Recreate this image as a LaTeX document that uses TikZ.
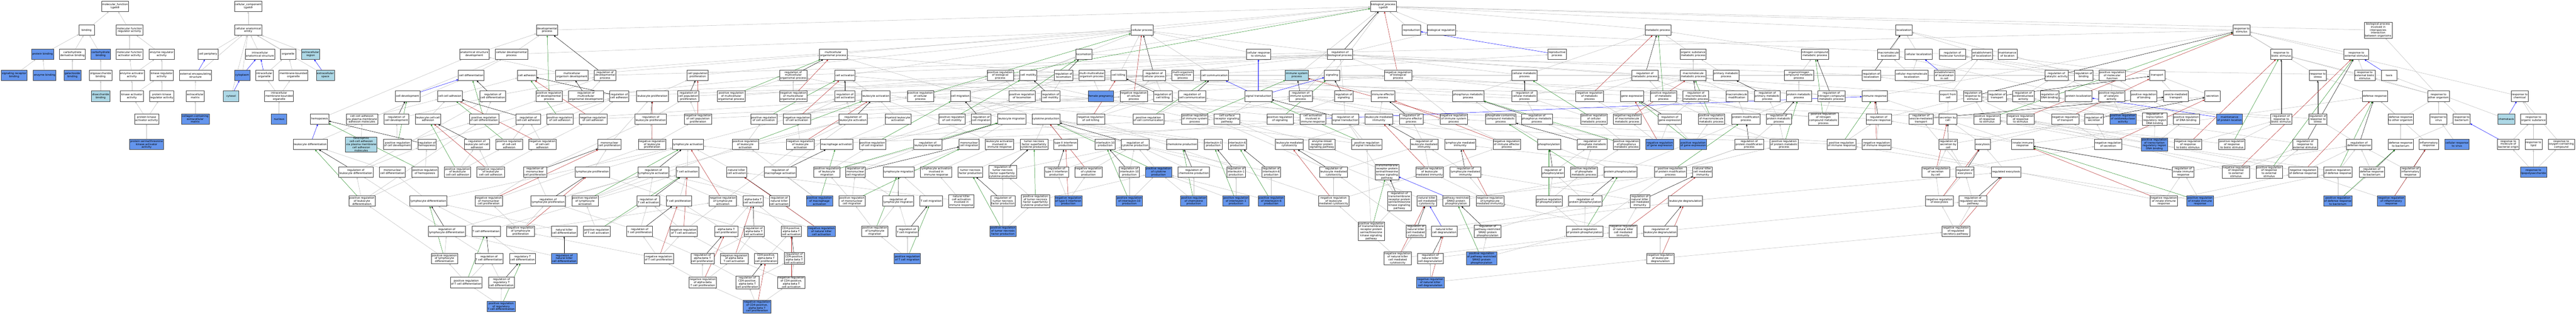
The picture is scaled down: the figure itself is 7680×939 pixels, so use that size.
\documentclass[tikz,border=0pt]{standalone}
\usepackage{fontspec}
\setmainfont{DejaVu Sans}
\usetikzlibrary{arrows.meta}
\definecolor{cfblue}{HTML}{6495ED}
\definecolor{ltblue}{HTML}{ADD8E6}
\definecolor{egray}{HTML}{BDBDBD}
\definecolor{egreen}{HTML}{228B22}
\definecolor{ered}{HTML}{B22222}
\pgfdeclarelayer{bglayer}
\pgfdeclarelayer{edgelayer}
\pgfsetlayers{bglayer,edgelayer,main}
\tikzset{
 gw/.style={draw=black!75, line width=0.8pt, fill=white, font=\fontsize{8}{9}\selectfont, align=center, inner xsep=2pt, inner ysep=1.5pt, minimum width=46pt, minimum height=31pt},
 gb/.style={gw, fill=cfblue},
 gl/.style={gw, fill=ltblue},
 tip/.style={-{Triangle[length=5pt,width=4.5pt]}},
 eg/.style={tip, draw=egray, line width=0.8pt},
 ek/.style={tip, draw=black, line width=0.75pt},
 egr/.style={tip, draw=egreen, line width=0.75pt},
 erd/.style={tip, draw=ered, line width=0.75pt},
 ebl/.style={tip, draw=blue, line width=0.75pt}
}
\newcommand\ndw[4]{\node[gw] (#1) at (#2,#3) {#4};}
\newcommand\ndb[4]{\node[gb] (#1) at (#2,#3) {#4};}
\newcommand\ndl[4]{\node[gl] (#1) at (#2,#3) {#4};}
\begin{document}
\begin{tikzpicture}[x=1pt,y=-1pt]
\begin{pgfonlayer}{bglayer}
\path[fill=white] (0,0) rectangle (7680,939);
\end{pgfonlayer}
\useasboundingbox (0,0) rectangle (7680,939);
% ---------- molecular function ----------
\ndw{mf}{343}{19}{molecular\_function\\Lgals9}
\ndw{binding}{258}{90}{binding}
\ndw{mfreg}{386}{90}{molecular function\\regulator activity}
\ndb{protbind}{127}{162}{protein binding}
\ndw{carbderiv}{216}{162}{carbohydrate\\derivative binding}
\ndb{carbbind}{300}{162}{carbohydrate\\binding}
\ndw{mfact}{386}{162}{molecular function\\activator activity}
\ndw{enzreg}{482}{162}{enzyme regulator\\activity}
\ndb{sigrec}{42}{225}{signaling receptor\\binding}
\ndb{enzbind}{133}{225}{enzyme binding}
\ndb{galbind}{216}{225}{galactoside\\binding}
\ndw{oligo}{300}{225}{oligosaccharide\\binding}
\ndw{enzact}{393}{225}{enzyme activator\\activity}
\ndw{kinreg}{482}{225}{kinase regulator\\activity}
\ndl{disacc}{300}{287}{disaccharide\\binding}
\ndw{kinact}{393}{287}{kinase activator\\activity}
\ndw{pkreg}{482}{287}{protein kinase\\regulator activity}
\ndw{pkact}{437}{355}{protein kinase\\activator activity}
\ndb{pstkact}{437}{431}{protein serine/threonine\\kinase activator\\activity}
% ---------- cellular component ----------
\ndw{cc}{740}{19}{cellular\_component\\Lgals9}
\ndw{cae}{740}{90}{cellular anatomical\\entity}
\ndw{cellperiph}{620}{162}{cell periphery}
\ndw{ias}{775}{162}{intracellular\\anatomical structure}
\ndw{organelle}{859}{162}{organelle}
\ndl{ecr}{926}{162}{extracellular\\region}
\ndw{ees}{583}{225}{external encapsulating\\structure}
\ndb{cytoplasm}{722}{225}{cytoplasm}
\ndw{intorg}{788}{225}{intracellular\\organelle}
\ndw{mbo}{875}{225}{membrane-bounded\\organelle}
\ndl{ecs}{970}{225}{extracellular\\space}
\ndw{ecm}{582}{287}{extracellular\\matrix}
\ndl{cytosol}{689}{287}{cytosol}
\ndw{imbo}{832}{287}{intracellular\\membrane-bounded\\organelle}
\ndb{collagen}{582}{355}{collagen-containing\\extracellular\\matrix}
\ndb{nucleus}{832}{355}{nucleus}
% ---------- biological process ----------
\ndw{bp}{4124}{19}{biological\_process\\Lgals9}
% row 90
\ndw{devproc}{1631}{90}{developmental\\process}
\ndw{cellproc}{3405}{90}{cellular process}
\ndw{repro}{4208}{90}{reproduction}
\ndw{bioreg}{4297}{90}{biological regulation}
\ndw{metproc}{4943}{90}{metabolic process}
\ndw{loc}{5676}{90}{localization}
\ndw{respstim}{6683}{90}{response to\\stimulus}
\ndw{bpinter}{7090}{90}{biological process\\involved in\\interspecies\\interaction\\between organisms}
% row 162
\ndw{asd}{1414}{162}{anatomical structure\\development}
\ndw{cdp}{1525}{162}{cellular developmental\\process}
\ndw{mop}{2484}{162}{multicellular\\organismal process}
\ndw{loco}{3231}{162}{locomotion}
\ndw{crs}{3752}{162}{cellular response\\to stimulus}
\ndw{regbp}{3995}{162}{regulation of\\biological process}
\ndw{reproproc}{4642}{162}{reproductive\\process}
\ndw{osmp}{5048}{162}{organic substance\\metabolic process}
\ndw{ncmp}{5411}{162}{nitrogen compound\\metabolic process}
\ndw{macloc}{5630}{162}{macromolecule\\localization}
\ndw{cellloc}{5720}{162}{cellular localization}
\ndw{regmf}{5821}{162}{regulation of\\molecular function}
\ndw{estloc}{5909}{162}{establishment\\of localization}
\ndw{mainloc}{5985}{162}{maintenance\\of location}
\ndw{respbiotic}{6801}{162}{response to\\biotic stimulus}
\ndw{respext}{7025}{162}{response to\\external stimulus}
% row 225
\ndw{celldiff}{1405}{225}{cell differentiation}
\ndw{celladh}{1571}{225}{cell adhesion}
\ndw{mcod}{1705}{225}{multicellular\\organism development}
\ndw{regdev}{1804}{225}{regulation of\\developmental\\process}
\ndw{cellpopprolif}{2080}{225}{cell population\\proliferation}
\ndw{regmop}{2365}{225}{regulation of\\multicellular\\organismal process}
\ndw{cellact}{2519}{225}{cell activation}
\ndw{posregbp}{2982}{225}{positive regulation\\of biological\\process}
\ndw{cellmot}{3066}{225}{cell motility}
\ndw{regloco}{3171}{225}{regulation of\\locomotion}
\ndw{mmop}{3255}{225}{multi-multicellular\\organism process}
\ndw{cellkill}{3335}{225}{cell killing}
\ndw{regcp}{3441}{225}{regulation of\\cellular process}
\ndw{morp}{3526}{225}{multi-organism\\reproductive\\process}
\ndw{cellcomm}{3621}{225}{cell communication}
\ndl{isp}{3866}{225}{immune system\\process}
\ndw{signaling}{3971}{225}{signaling}
\ndw{negregbp}{4168}{225}{negative regulation\\of biological\\process}
\ndw{cellmet}{4545}{225}{cellular metabolic\\process}
\ndw{regmet}{4904}{225}{regulation of\\metabolic process}
\ndw{macmet}{5048}{225}{macromolecule\\metabolic process}
\ndw{primmet}{5146}{225}{primary metabolic\\process}
\ndw{orgnmp}{5363}{225}{organonitrogen\\compound metabolic\\process}
\ndw{regloc}{5579}{225}{regulation of\\localization}
\ndw{cellmacloc}{5699}{225}{cellular macromolecule\\localization}
\ndw{estlocincell}{5797}{225}{establishment\\of localization\\in cell}
\ndw{regcatact}{6131}{225}{regulation of\\catalytic activity}
\ndw{regbinding}{6212}{225}{regulation of\\binding}
\ndw{posregmf}{6297}{225}{positive regulation\\of molecular\\function}
\ndw{transport}{6431}{225}{transport}
\ndw{respstress}{6910}{225}{response to\\stress}
\ndw{respextbiotic}{7050}{225}{response to\\external biotic\\stimulus}
\ndw{taxis}{7123}{225}{taxis}
% row 287
\ndw{celldev}{1215}{287}{cell development}
\ndw{ccadh2}{1341}{287}{cell-cell adhesion}
\ndw{regcelldiff}{1469}{287}{regulation of\\cell differentiation}
\ndw{posregdev}{1637}{287}{positive regulation\\of developmental\\process}
\ndw{regmcod}{1747}{287}{regulation of\\multicellular\\organismal development}
\ndw{regcelladh}{1846}{287}{regulation of\\cell adhesion}
\ndw{leukprolif}{1945}{287}{leukocyte proliferation}
\ndw{regcellpopprolif}{2052}{287}{regulation of\\cell population\\proliferation}
\ndw{posregmop}{2180}{287}{positive regulation\\of multicellular\\organismal process}
\ndw{negregmop}{2365}{287}{negative regulation\\of multicellular\\organismal process}
\ndw{regcellact}{2519}{287}{regulation of\\cell activation}
\ndw{leukact}{2611}{287}{leukocyte activation}
\ndw{posregcp}{2744}{287}{positive regulation\\of cellular\\process}
\ndw{cellmig}{2863}{287}{cell migration}
\ndw{posregloco}{3047}{287}{positive regulation\\of locomotion}
\ndw{regcellmot}{3132}{287}{regulation of\\cell motility}
\ndb{femalepreg}{3282}{287}{female pregnancy}
\ndw{negregcp}{3380}{287}{negative regulation\\of cellular\\process}
\ndw{regcellkill}{3467}{287}{regulation of\\cell killing}
\ndw{regcellcomm}{3554}{287}{regulation of\\cell communication}
\ndw{sigtrans}{3752}{287}{signal transduction}
\ndw{regisp}{3878}{287}{regulation of\\immune system\\process}
\ndw{regsig}{4006}{287}{regulation of\\signaling}
\ndw{iep}{4123}{287}{immune effector\\process}
\ndw{phosmet}{4377}{287}{phosphorus metabolic\\process}
\ndw{regcellmet}{4545}{287}{regulation of\\cellular metabolic\\process}
\ndw{negregmet}{4739}{287}{negative regulation\\of metabolic\\process}
\ndw{geneexpr}{4866}{287}{gene expression}
\ndw{posregmet}{4959}{287}{positive regulation\\of metabolic\\process}
\ndw{regmacmet}{5056}{287}{regulation of\\macromolecule\\metabolic process}
\ndw{macmod}{5178}{287}{macromolecule\\modification}
\ndw{regprimmet}{5269}{287}{regulation of\\primary metabolic\\process}
\ndw{protmet}{5363}{287}{protein metabolic\\process}
\ndw{regncmp}{5460}{287}{regulation of\\nitrogen compound\\metabolic process}
\ndw{immresp}{5589}{287}{immune response}
\ndw{export}{5808}{287}{export from\\cell}
\ndw{regrespstim}{5881}{287}{regulation of\\response to\\stimulus}
\ndw{regtransport}{5954}{287}{regulation of\\transport}
\ndw{regoxact}{6032}{287}{regulation of\\oxidoreductase\\activity}
\ndw{regdnabind}{6110}{287}{regulation of\\DNA binding}
\ndw{protloc}{6197}{287}{protein localization}
\ndw{posregcatact}{6295}{287}{positive regulation\\of catalytic\\activity}
\ndw{posregbinding}{6391}{287}{positive regulation\\of binding}
\ndw{vesictrans}{6487}{287}{vesicle-mediated\\transport}
\ndw{secretion}{6596}{287}{secretion}
\ndw{defresp}{7080}{287}{defense response}
\ndw{resporg}{7270}{287}{response to\\other organism}
\ndw{respchem}{7512}{287}{response to\\chemical}
% row 355
\ndw{hemo}{953}{355}{hemopoiesis}
\ndw{ccadh}{1079}{355}{cell-cell adhesion\\via plasma-membrane\\adhesion molecules}
\ndw{regcelldev}{1182}{355}{regulation of\\cell development}
\ndw{leukadh}{1276}{355}{leukocyte cell-cell\\adhesion}
\ndw{posregcelldiff}{1443}{355}{positive regulation\\of cell differentiation}
\ndw{regccadh}{1575}{355}{regulation of\\cell-cell adhesion}
\ndw{posregcelladh}{1669}{355}{positive regulation\\of cell adhesion}
\ndw{negregcelladh}{1768}{355}{negative regulation\\of cell adhesion}
\ndw{regleukprolif}{1940}{355}{regulation of\\leukocyte proliferation}
\ndw{negregcellpopprolif}{2081}{355}{negative regulation\\of cell population\\proliferation}
\ndw{posregcellact}{2277}{355}{positive regulation\\of cell activation}
\ndw{negregcellact}{2376}{355}{negative regulation\\of cell activation}
\ndw{regleukact}{2543}{355}{regulation of\\leukocyte activation}
\ndw{myeloidleukact}{2677}{355}{myeloid leukocyte\\activation}
\ndw{posregcellmot}{2838}{355}{positive regulation\\of cell motility}
\ndw{regcellmig}{2925}{355}{regulation of\\cell migration}
\ndw{leukmig}{3016}{355}{leukocyte migration}
\ndw{cytprod}{3118}{355}{cytokine production}
\ndw{negregcellkill}{3252}{355}{negative regulation\\of cell killing}
\ndw{posregcellcomm}{3424}{355}{positive regulation\\of cell communication}
\ndw{posregisp}{3562}{355}{positive regulation\\of immune system\\process}
\ndw{csrsp}{3658}{355}{cell surface\\receptor signaling\\pathway}
\ndw{posregsig}{3816}{355}{positive regulation\\of signaling}
\ndw{cellactimm}{3914}{355}{cell activation\\involved in\\immune response}
\ndw{regsigtrans}{4011}{355}{regulation of\\signal transduction}
\ndw{leukmedimm}{4111}{355}{leukocyte mediated\\immunity}
\ndw{regiep}{4207}{355}{regulation of\\immune effector\\process}
\ndw{negregisp}{4334}{355}{negative regulation\\of immune system\\process}
\ndw{phoscomp}{4474}{355}{phosphate-containing\\compound metabolic\\process}
\ndw{regphosmet}{4582}{355}{regulation of\\phosphorus metabolic\\process}
\ndw{posregcellmet}{4752}{355}{positive regulation\\of cellular\\metabolic process}
\ndw{negregmacmet}{4851}{355}{negative regulation\\of macromolecule\\metabolic process}
\ndw{reggeneexpr}{4978}{355}{regulation of\\gene expression}
\ndw{posregmacmet}{5102}{355}{positive regulation\\of macromolecule\\metabolic process}
\ndw{protmod}{5205}{355}{protein modification\\process}
\ndw{regprotmet}{5303}{355}{regulation of\\protein metabolic\\process}
\ndw{posregncmp}{5436}{355}{positive regulation\\of nitrogen\\compound metabolic\\process}
\ndw{regimmresp}{5601}{355}{regulation of\\immune response}
\ndw{regvesic}{5727}{355}{regulation of\\vesicle-mediated\\transport}
\ndw{secbycell}{5807}{355}{secretion by\\cell}
\ndw{posregrespstim}{5924}{355}{positive regulation\\of response\\to stimulus}
\ndw{negregrespstim}{6024}{355}{negative regulation\\of response\\to stimulus}
\ndw{negregtransport}{6157}{355}{negative regulation\\of transport}
\ndw{regsecretion}{6243}{355}{regulation of\\secretion}
\ndb{posregoxact}{6329}{355}{positive regulation\\of oxidoreductase\\activity}
\ndw{regtranscr}{6424}{355}{regulation of\\transcription\\regulatory region\\DNA binding}
\ndw{posregdnabind}{6518}{355}{positive regulation\\of DNA binding}
\ndb{mainprotloc}{6647}{355}{maintenance\\of protein location}
\ndw{regrespbiotic}{6801}{355}{regulation of\\response to\\biotic stimulus}
\ndw{regrespstress}{6910}{355}{regulation of\\response to\\stress}
\ndw{defrespother}{7157}{355}{defense response\\to other organism}
\ndw{respvirus}{7270}{355}{response to\\virus}
\ndw{respbact}{7339}{355}{response to\\bacterium}
\ndl{chemotaxis}{7472}{355}{chemotaxis}
\ndw{resporgsub}{7553}{355}{response to\\organic substance}
% row 431
\ndw{leukdiff}{925}{431}{leukocyte differentiation}
\ndl{hetero}{1077}{431}{heterophilic\\cell-cell adhesion\\via plasma membrane\\cell adhesion\\molecules}
\ndw{posregcelldev}{1185}{431}{positive regulation\\of cell development}
\ndw{reghemo}{1273}{431}{regulation of\\hemopoiesis}
\ndw{regleukccadh}{1422}{431}{regulation of\\leukocyte cell-cell\\adhesion}
\ndw{posregccadh}{1518}{431}{positive regulation\\of cell-cell\\adhesion}
\ndw{negregccadh}{1617}{431}{negative regulation\\of cell-cell\\adhesion}
\ndw{mncprolif}{1817}{431}{mononuclear\\cell proliferation}
\ndw{negregleukprolif}{1944}{431}{negative regulation\\of leukocyte\\proliferation}
\ndw{lymphact}{2051}{431}{lymphocyte activation}
\ndw{posregleukact}{2222}{431}{positive regulation\\of leukocyte\\activation}
\ndw{negregleukact}{2386}{431}{negative regulation\\of leukocyte\\activation}
\ndw{macact}{2494}{431}{macrophage activation}
\ndw{posregcellmig}{2601}{431}{positive regulation\\of cell migration}
\ndw{regleukmig}{2766}{431}{regulation of\\leukocyte migration}
\ndw{mncmig}{2889}{431}{mononuclear\\cell migration}
\ndw{leukactimm}{2980}{431}{leukocyte activation\\involved in\\immune response}
\ndw{tnfsfprod}{3083}{431}{tumor necrosis\\factor superfamily\\cytokine production}
\ndw{type2ifnprod}{3177}{431}{type II interferon\\production}
\ndw{il10prod}{3295}{431}{interleukin-10\\production}
\ndw{regcytprod}{3384}{431}{regulation of\\cytokine production}
\ndw{chemokprod}{3524}{431}{chemokine production}
\ndw{il1prod}{3617}{431}{interleukin-1\\production}
\ndw{il6prod}{3689}{431}{interleukin-6\\production}
\ndw{leukcytotox}{3844}{431}{leukocyte mediated\\cytotoxicity}
\ndw{enzrecprot}{3941}{431}{enzyme-linked\\receptor protein\\signaling pathway}
\ndw{posregsigtrans}{4075}{431}{positive regulation\\of signal transduction}
\ndw{regleukmedimm}{4246}{431}{regulation of\\leukocyte mediated\\immunity}
\ndw{lymphmedimm}{4353}{431}{lymphocyte mediated\\immunity}
\ndw{negregiep}{4492}{431}{negative regulation\\of immune effector\\process}
\ndw{phosphorylation}{4618}{431}{phosphorylation}
\ndw{regphosphmet}{4747}{431}{regulation of\\phosphate metabolic\\process}
\ndw{posregphosmet}{4849}{431}{positive regulation\\of phosphorus\\metabolic process}
\ndb{negreggeneexpr}{4948}{431}{negative regulation\\of gene expression}
\ndb{posreggeneexpr}{5048}{431}{positive regulation\\of gene expression}
\ndw{regpmp}{5215}{431}{regulation of\\protein modification\\process}
\ndw{posregprotmet}{5319}{431}{positive regulation\\of protein metabolic\\process}
\ndw{posregimmresp}{5490}{431}{positive regulation\\of immune response}
\ndw{negregimmresp}{5595}{431}{negative regulation\\of immune response}
\ndw{regsecbycell}{5808}{431}{regulation of\\secretion by\\cell}
\ndw{exocytosis}{5911}{431}{exocytosis}
\ndw{innateimm}{6030}{431}{innate immune\\response}
\ndw{negregsecretion}{6285}{431}{negative regulation\\of secretion}
\ndb{posregtranscr}{6423}{431}{positive regulation\\of transcription\\regulatory region\\DNA binding}
\ndw{negregrespbiotic}{6523}{431}{negative regulation\\of response\\to biotic stimulus}
\ndw{posregrespbiotic}{6654}{431}{positive regulation\\of response\\to biotic stimulus}
\ndw{regrespext}{6872}{431}{regulation of\\response to\\external stimulus}
\ndw{regdefresp}{7033}{431}{regulation of\\defense response}
\ndw{defrespbact}{7157}{431}{defense response\\to bacterium}
\ndw{inflam}{7241}{431}{inflammatory\\response}
\ndb{cellrespvirus}{7325}{431}{cellular response\\to virus}
\ndw{respmolbact}{7478}{431}{response to\\molecule of\\bacterial origin}
\ndw{resplipid}{7553}{431}{response to\\lipid}
\ndw{respoxy}{7636}{431}{response to\\oxygen-containing\\compound}
% row 513
\ndw{regleukdiff}{1061}{513}{regulation of\\leukocyte differentiation}
\ndw{mncdiff}{1170}{513}{mononuclear\\cell differentiation}
\ndw{posreghemo}{1267}{513}{positive regulation\\of hemopoiesis}
\ndw{posregleukccadh}{1364}{513}{positive regulation\\of leukocyte\\cell-cell adhesion}
\ndw{negregleukccadh}{1463}{513}{negative regulation\\of leukocyte\\cell-cell adhesion}
\ndw{regmncprolif}{1595}{513}{regulation of\\mononuclear\\cell proliferation}
\ndw{lymphprolif}{1766}{513}{lymphocyte proliferation}
\ndw{reglymphact}{1948}{513}{regulation of\\lymphocyte activation}
\ndw{tcellact}{2049}{513}{T cell activation}
\ndw{nkact}{2196}{513}{natural killer\\cell activation}
\ndw{regmacact}{2326}{513}{regulation of\\macrophage activation}
\ndw{posregleukmig}{2465}{513}{positive regulation\\of leukocyte\\migration}
\ndw{regmncmig}{2550}{513}{regulation of\\mononuclear\\cell migration}
\ndw{lymphmig}{2679}{513}{lymphocyte migration}
\ndw{lymphactimm}{2791}{513}{lymphocyte activation\\involved in\\immune response}
\ndw{tnfprod}{2893}{513}{tumor necrosis\\factor production}
\ndw{regtnfsfprod}{2989}{513}{regulation of\\tumor necrosis\\factor superfamily\\cytokine production}
\ndw{regtype2ifnprod}{3150}{513}{regulation of\\type II interferon\\production}
\ndw{negregcytprod}{3245}{513}{negative regulation\\of cytokine\\production}
\ndw{regil10prod}{3367}{513}{regulation of\\interleukin-10\\production}
\ndb{posregcytprod}{3454}{513}{positive regulation\\of cytokine\\production}
\ndw{regchemokprod}{3559}{513}{regulation of\\chemokine production}
\ndw{regil1prod}{3685}{513}{regulation of\\interleukin-1\\production}
\ndw{regil6prod}{3790}{513}{regulation of\\interleukin-6\\production}
\ndw{regleukcytotox}{3976}{513}{regulation of\\leukocyte mediated\\cytotoxicity}
\ndw{tmrpsts}{4135}{513}{transmembrane\\receptor protein\\serine/threonine\\kinase signaling\\pathway}
\ndw{negregleukmedimm}{4262}{513}{negative regulation\\of leukocyte\\mediated immunity}
\ndw{reglymphmedimm}{4369}{513}{regulation of\\lymphocyte mediated\\immunity}
\ndw{regphosph}{4630}{513}{regulation of\\phosphorylation}
\ndw{posregphosphmet}{4722}{513}{positive regulation\\of phosphate\\metabolic process}
\ndw{protphos}{4831}{513}{protein phosphorylation}
\ndw{posregpmp}{4980}{513}{positive regulation\\of protein modification\\process}
\ndw{nkmedimm}{5076}{513}{natural killer\\cell mediated\\immunity}
\ndw{negregsecbycell}{5771}{513}{negative regulation\\of secretion\\by cell}
\ndw{regexo}{5858}{513}{regulation of\\exocytosis}
\ndw{regexo2}{5981}{513}{regulated exocytosis}
\ndw{reginnate}{6509}{513}{regulation of\\innate immune\\response}
\ndw{negregrespext}{6666}{513}{negative regulation\\of response\\to external\\stimulus}
\ndw{posregrespext}{6765}{513}{positive regulation\\of response\\to external\\stimulus}
\ndw{negregdefresp}{6866}{513}{negative regulation\\of defense response}
\ndw{posregdefresp}{6970}{513}{positive regulation\\of defense response}
\ndw{regdefbact}{7071}{513}{regulation of\\defense response\\to bacterium}
\ndw{reginflam}{7186}{513}{regulation of\\inflammatory\\response}
\ndb{resplps}{7553}{513}{response to\\lipopolysaccharide}
% row 600
\ndw{posregleukdiff}{1079}{600}{positive regulation\\of leukocyte\\differentiation}
\ndw{lymphdiff}{1277}{600}{lymphocyte differentiation}
\ndw{negregmncprolif}{1457}{600}{negative regulation\\of mononuclear\\cell proliferation}
\ndw{reglymphprolif}{1634}{600}{regulation of\\lymphocyte proliferation}
\ndw{posreglymphact}{1744}{600}{positive regulation\\of lymphocyte\\activation}
\ndw{regtcellact}{1933}{600}{regulation of\\T cell activation}
\ndw{tcellprolif}{2024}{600}{T cell proliferation}
\ndw{negreglymphact}{2155}{600}{negative regulation\\of lymphocyte\\activation}
\ndw{abtcellact}{2245}{600}{alpha-beta T\\cell activation}
\ndw{regnkact}{2323}{600}{regulation of\\natural killer\\cell activation}
\ndb{posregmacact}{2443}{600}{positive regulation\\of macrophage\\activation}
\ndw{posregmncmig}{2540}{600}{positive regulation\\of mononuclear\\cell migration}
\ndw{reglymphmig}{2678}{600}{regulation of\\lymphocyte migration}
\ndw{tcellmig}{2776}{600}{T cell migration}
\ndw{nkactimm}{2866}{600}{natural killer\\cell activation\\involved in\\immune response}
\ndw{regtnfprod}{2990}{600}{regulation of\\tumor necrosis\\factor production}
\ndw{posregtnfsfprod}{3087}{600}{positive regulation\\of tumor necrosis\\factor superfamily\\cytokine production}
\ndb{negregtype2ifnprod}{3185}{600}{negative regulation\\of type II interferon\\production}
\ndb{posregil10prod}{3367}{600}{positive regulation\\of interleukin-10\\production}
\ndb{posregchemokprod}{3559}{600}{positive regulation\\of chemokine\\production}
\ndb{posregil1prod}{3685}{600}{positive regulation\\of interleukin-1\\production}
\ndb{posregil6prod}{3790}{600}{positive regulation\\of interleukin-6\\production}
\ndw{negregleukcytotox}{3976}{600}{negative regulation\\of leukocyte\\mediated cytotoxicity}
\ndw{regtmrpsts}{4172}{600}{regulation of\\transmembrane\\receptor protein\\serine/threonine\\kinase signaling\\pathway}
\ndw{nkcytotox}{4254}{600}{natural killer\\cell mediated\\cytotoxicity}
\ndw{smadphos}{4341}{600}{pathway-restricted\\SMAD protein\\phosphorylation}
\ndw{negreglymphmedimm}{4442}{600}{negative regulation\\of lymphocyte\\mediated immunity}
\ndw{posregphosph}{4618}{600}{positive regulation\\of phosphorylation}
\ndw{regprotphos}{4726}{600}{regulation of\\protein phosphorylation}
\ndw{regnkmedimm}{4889}{600}{regulation of\\natural killer\\cell mediated\\immunity}
\ndw{leukdegran}{5025}{600}{leukocyte degranulation}
\ndw{negregexo}{5782}{600}{negative regulation\\of exocytosis}
\ndw{regregsec}{5882}{600}{regulation of\\regulated secretory\\pathway}
\ndw{negreginnate}{6451}{600}{negative regulation\\of innate immune\\response}
\ndb{posreginnate}{6559}{600}{positive regulation\\of innate immune\\response}
\ndb{posregdefbact}{6970}{600}{positive regulation\\of defense response\\to bacterium}
\ndb{negreginflam}{7129}{600}{negative regulation\\of inflammatory\\response}
% row 690
\ndw{reglymphdiff}{1332}{690}{regulation of\\lymphocyte differentiation}
\ndw{tcelldiff}{1449}{690}{T cell differentiation}
\ndw{negreglymphprolif}{1552}{690}{negative regulation\\of lymphocyte\\proliferation}
\ndw{nkdiff}{1682}{690}{natural killer\\cell differentiation}
\ndw{posregtcellact}{1779}{690}{positive regulation\\of T cell activation}
\ndw{regtcellprolif}{1907}{690}{regulation of\\T cell proliferation}
\ndw{negregtcellact}{2038}{690}{negative regulation\\of T cell activation}
\ndw{abtcellprolif}{2165}{690}{alpha-beta T\\cell proliferation}
\ndw{regabtcellact}{2248}{690}{regulation of\\alpha-beta T\\cell activation}
\ndw{cd4act}{2359}{690}{CD4-positive,\\alpha-beta T\\cell activation}
\ndb{negregnkact}{2449}{690}{negative regulation\\of natural killer\\cell activation}
\ndw{posreglymphmig}{2608}{690}{positive regulation\\of lymphocyte\\migration}
\ndw{regtcellmig}{2705}{690}{regulation of\\T cell migration}
\ndb{posregtnfprod}{2990}{690}{positive regulation\\of tumor necrosis\\factor production}
\ndw{posregtmrpsts}{4088}{690}{positive regulation\\of transmembrane\\receptor protein\\serine/threonine\\kinase signaling\\pathway}
\ndw{regnkcytotox}{4221}{690}{regulation of\\natural killer\\cell mediated\\cytotoxicity}
\ndw{nkdegran}{4306}{690}{natural killer\\cell degranulation}
\ndw{regsmadphos}{4435}{690}{regulation of\\pathway-restricted\\SMAD protein\\phosphorylation}
\ndw{posregprotphos}{4724}{690}{positive regulation\\of protein phosphorylation}
\ndw{negregnkmedimm}{4839}{690}{negative regulation\\of natural killer\\cell mediated\\immunity}
\ndw{regleukdegran}{4950}{690}{regulation of\\leukocyte degranulation}
\ndw{negregregsec}{5831}{690}{negative regulation\\of regulated\\secretory pathway}
% row 771
\ndw{posreglymphdiff}{1325}{771}{positive regulation\\of lymphocyte\\differentiation}
\ndw{regtcelldiff}{1458}{771}{regulation of\\T cell differentiation}
\ndw{regTdiff}{1558}{771}{regulatory T\\cell differentiation}
\ndb{regnkdiff}{1682}{771}{regulation of\\natural killer\\cell differentiation}
\ndw{negregtcellprolif}{1964}{771}{negative regulation\\of T cell proliferation}
\ndw{regabtcellprolif}{2094}{771}{regulation of\\alpha-beta T\\cell proliferation}
\ndw{negregabtcellact}{2189}{771}{negative regulation\\of alpha-beta\\T cell activation}
\ndw{cd4prolif}{2284}{771}{CD4-positive,\\alpha-beta T\\cell proliferation}
\ndw{regcd4act}{2368}{771}{regulation of\\CD4-positive,\\alpha-beta T\\cell activation}
\ndb{posregtcellmig}{2705}{771}{positive regulation\\of T cell migration}
\ndw{negregnkcytotox}{4167}{771}{negative regulation\\of natural killer\\cell mediated\\cytotoxicity}
\ndw{regnkdegran}{4264}{771}{regulation of\\natural killer\\cell degranulation}
\ndb{posregsmadphos}{4417}{771}{positive regulation\\of pathway-restricted\\SMAD protein\\phosphorylation}
\ndw{negregleukdegran}{4950}{771}{negative regulation\\of leukocyte\\degranulation}
% row 843
\ndw{posregtcelldiff}{1390}{843}{positive regulation\\of T cell differentiation}
\ndw{regregTdiff}{1495}{843}{regulation of\\regulatory T\\cell differentiation}
\ndw{negregabtcellprolif}{2095}{843}{negative regulation\\of alpha-beta\\T cell proliferation}
\ndw{regcd4prolif}{2228}{843}{regulation of\\CD4-positive,\\alpha-beta T\\cell proliferation}
\ndw{negregcd4act}{2359}{843}{negative regulation\\of CD4-positive,\\alpha-beta T\\cell activation}
\ndb{negregnkdegran}{4264}{843}{negative regulation\\of natural killer\\cell degranulation}
% row 914
\ndb{posregregTdiff}{1494}{914}{positive regulation\\of regulatory\\T cell differentiation}
\ndb{negregcd4prolif}{2257}{915}{negative regulation\\of CD4-positive,\\alpha-beta T\\cell proliferation}
% ================= edges =================
\begin{pgfonlayer}{edgelayer}
\foreach \a/\b in {binding/mf, mfreg/mf, protbind/binding, carbderiv/binding, carbbind/binding, mfact/mfreg, enzreg/mfreg, sigrec/protbind, enzbind/protbind, galbind/carbderiv, oligo/carbbind, disacc/oligo, enzact/mfact, enzact/enzreg, kinreg/enzreg, kinact/enzact, kinact/kinreg, pkreg/kinreg, pkact/kinact, pkact/pkreg, pstkact/pkact,
cae/cc, cellperiph/cae, ias/cae, organelle/cae, ecr/cae, cytoplasm/cae, cytosol/cae, ecs/cae, ees/cae, ecm/ees, collagen/ecm, intorg/organelle, mbo/organelle, imbo/intorg, imbo/mbo, nucleus/imbo,
cellproc/bp, devproc/bp, metproc/bp, loc/bp, respstim/bp, bpinter/bp, repro/bp, bioreg/bp, mop/bp, isp/bp, loco/bp, signaling/bp,
regbp/bioreg, negregbp/regbp, posregbp/regbp, regcp/regbp, negregcp/regcp, negregcp/negregbp, posregcp/regcp, posregcp/posregbp,
asd/devproc, cdp/devproc, cdp/cellproc, mcod/asd, mcod/mop, celldiff/cdp, celldev/cdp, regdev/regbp, posregdev/regdev, posregdev/posregbp,
regcelldiff/regdev, posregcelldiff/regcelldiff, posregcelldiff/posregdev, regcelldev/regcelldiff, posregcelldev/regcelldev, posregcelldev/posregcelldiff,
regmcod/regdev, regmcod/regmop, hemo/asd, leukdiff/celldiff, reghemo/regmcod, posreghemo/reghemo, regleukdiff/reghemo, regleukdiff/regcelldiff, posregleukdiff/regleukdiff, posregleukdiff/posreghemo, posregleukdiff/posregcelldiff, mncdiff/leukdiff, lymphdiff/mncdiff, lymphdiff/lymphact, reglymphdiff/regleukdiff, reglymphdiff/reglymphact, posreglymphdiff/reglymphdiff, posreglymphdiff/posregleukdiff, tcelldiff/lymphdiff, tcelldiff/tcellact, regtcelldiff/reglymphdiff, posregtcelldiff/regtcelldiff, posregtcelldiff/posreglymphdiff, regTdiff/tcelldiff, regregTdiff/regtcelldiff, posregregTdiff/regregTdiff, posregregTdiff/posregtcelldiff, nkdiff/lymphdiff, regnkdiff/reglymphdiff,
celladh/cellproc, ccadh2/celladh, ccadh/ccadh2, hetero/ccadh, leukadh/ccadh2, regcelladh/regcp, posregcelladh/regcelladh, posregcelladh/posregcp, negregcelladh/regcelladh, negregcelladh/negregcp, regccadh/regcelladh, posregccadh/regccadh, posregccadh/posregcelladh, negregccadh/regccadh, negregccadh/negregcelladh, regleukccadh/regccadh, posregleukccadh/regleukccadh, posregleukccadh/posregccadh, negregleukccadh/regleukccadh, negregleukccadh/negregccadh,
cellpopprolif/cellproc, regcellpopprolif/regcp, negregcellpopprolif/regcellpopprolif, negregcellpopprolif/negregcp, leukprolif/cellpopprolif, regleukprolif/regcellpopprolif, negregleukprolif/regleukprolif, negregleukprolif/negregcellpopprolif, mncprolif/leukprolif, regmncprolif/regleukprolif, negregmncprolif/regmncprolif, negregmncprolif/negregleukprolif, lymphprolif/mncprolif, lymphprolif/lymphact, reglymphprolif/regmncprolif, reglymphprolif/reglymphact, negreglymphprolif/reglymphprolif, negreglymphprolif/negregmncprolif, negreglymphprolif/negreglymphact, tcellprolif/lymphprolif, tcellprolif/tcellact, regtcellprolif/reglymphprolif, regtcellprolif/regtcellact, negregtcellprolif/regtcellprolif, negregtcellprolif/negreglymphprolif, negregtcellprolif/negregtcellact, abtcellprolif/tcellprolif, abtcellprolif/abtcellact, regabtcellprolif/regtcellprolif, regabtcellprolif/regabtcellact, negregabtcellprolif/regabtcellprolif, negregabtcellprolif/negregtcellprolif, negregabtcellprolif/negregabtcellact, cd4prolif/abtcellprolif, cd4prolif/cd4act, regcd4prolif/regabtcellprolif, regcd4prolif/regcd4act, negregcd4prolif/regcd4prolif, negregcd4prolif/negregabtcellprolif, negregcd4prolif/negregcd4act,
cellact/cellproc, regcellact/regcp, posregcellact/regcellact, posregcellact/posregcp, negregcellact/regcellact, negregcellact/negregcp, leukact/cellact, regleukact/regcellact, regleukact/regisp, posregleukact/regleukact, posregleukact/posregcellact, posregleukact/posregisp, negregleukact/regleukact, negregleukact/negregcellact, negregleukact/negregisp, lymphact/leukact, reglymphact/regleukact, posreglymphact/reglymphact, posreglymphact/posregleukact, negreglymphact/reglymphact, negreglymphact/negregleukact, tcellact/lymphact, regtcellact/reglymphact, posregtcellact/regtcellact, posregtcellact/posreglymphact, negregtcellact/regtcellact, negregtcellact/negreglymphact, abtcellact/tcellact, regabtcellact/regtcellact, negregabtcellact/regabtcellact, negregabtcellact/negregtcellact, cd4act/abtcellact, regcd4act/regabtcellact, negregcd4act/regcd4act, negregcd4act/negregabtcellact, nkact/lymphact, regnkact/reglymphact, negregnkact/regnkact, negregnkact/negreglymphact, myeloidleukact/leukact, macact/myeloidleukact, regmacact/regleukact, posregmacact/regmacact, posregmacact/posregleukact, leukactimm/leukact, leukactimm/cellactimm, lymphactimm/lymphact, lymphactimm/leukactimm, nkactimm/nkact, nkactimm/lymphactimm, cellactimm/cellact,
regmop/regbp, posregmop/regmop, posregmop/posregbp, negregmop/regmop, negregmop/negregbp,
leukmig/cellmig, posregleukmig/regleukmig, posregleukmig/posregcellmig, regleukmig/regcellmig, mncmig/leukmig, regmncmig/regleukmig, posregmncmig/regmncmig, posregmncmig/posregleukmig, lymphmig/mncmig, reglymphmig/regmncmig, posreglymphmig/reglymphmig, posreglymphmig/posregmncmig, tcellmig/lymphmig, regtcellmig/reglymphmig, posregtcellmig/regtcellmig, posregtcellmig/posreglymphmig, cellmig/cellmot, regcellmig/regcellmot, posregcellmig/regcellmig, posregcellmig/posregcellmot, cellmot/loco, cellmot/cellproc, regcellmot/regloco, posregcellmot/regcellmot, posregcellmot/posregloco, regloco/regbp, posregloco/regloco, posregloco/posregbp,
cytprod/mop, regcytprod/regmop, negregcytprod/regcytprod, posregcytprod/regcytprod, tnfsfprod/cytprod, regtnfsfprod/regcytprod, posregtnfsfprod/regtnfsfprod, posregtnfsfprod/posregcytprod, tnfprod/tnfsfprod, regtnfprod/regtnfsfprod, posregtnfprod/regtnfprod, posregtnfprod/posregtnfsfprod, type2ifnprod/cytprod, regtype2ifnprod/regcytprod, negregtype2ifnprod/regtype2ifnprod, negregtype2ifnprod/negregcytprod, il10prod/cytprod, regil10prod/regcytprod, posregil10prod/regil10prod, posregil10prod/posregcytprod, chemokprod/cytprod, regchemokprod/regcytprod, posregchemokprod/regchemokprod, posregchemokprod/posregcytprod, il1prod/cytprod, regil1prod/regcytprod, posregil1prod/regil1prod, posregil1prod/posregcytprod, il6prod/cytprod, regil6prod/regcytprod, posregil6prod/regil6prod, posregil6prod/posregcytprod,
cellkill/cellproc, regcellkill/regcp, negregcellkill/regcellkill, negregcellkill/negregcp, leukcytotox/cellkill, leukcytotox/leukmedimm, regleukcytotox/regcellkill, regleukcytotox/regleukmedimm, negregleukcytotox/regleukcytotox, negregleukcytotox/negregcellkill, negregleukcytotox/negregleukmedimm, nkcytotox/leukcytotox, nkcytotox/nkmedimm, nkdegran/leukdegran, regnkcytotox/regleukcytotox, regnkcytotox/regnkmedimm, negregnkcytotox/regnkcytotox, negregnkcytotox/negregleukcytotox, negregnkcytotox/negregnkmedimm, regnkdegran/regleukdegran, negregnkdegran/regnkdegran, negregnkdegran/negregleukdegran,
regisp/regbp, posregisp/regisp, posregisp/posregbp, negregisp/regisp, negregisp/negregbp, iep/isp, regiep/regisp, negregiep/regiep, negregiep/negregisp, leukmedimm/iep, regleukmedimm/regiep, negregleukmedimm/regleukmedimm, negregleukmedimm/negregiep, lymphmedimm/leukmedimm, reglymphmedimm/regleukmedimm, negreglymphmedimm/reglymphmedimm, negreglymphmedimm/negregleukmedimm, nkmedimm/lymphmedimm, regnkmedimm/reglymphmedimm, negregnkmedimm/regnkmedimm, negregnkmedimm/negreglymphmedimm, leukdegran/regexo2, regleukdegran/regregsec, negregleukdegran/regleukdegran, negregleukdegran/negregregsec,
immresp/isp, immresp/respstim, regimmresp/regisp, regimmresp/regrespstim, posregimmresp/regimmresp, posregimmresp/posregisp, negregimmresp/regimmresp, negregimmresp/negregisp, innateimm/immresp, innateimm/defresp, reginnate/regimmresp, reginnate/regdefresp, posreginnate/reginnate, posreginnate/posregimmresp, posreginnate/posregdefresp, negreginnate/reginnate, negreginnate/negregimmresp, negreginnate/negregdefresp,
cellcomm/cellproc, regsig/regbp, regcellcomm/regcp, posregcellcomm/regcellcomm, posregcellcomm/posregcp, regsigtrans/regsig, regsigtrans/regcellcomm, posregsig/regsig, posregsigtrans/regsigtrans, posregsigtrans/posregsig, posregsigtrans/posregcellcomm, csrsp/sigtrans, enzrecprot/csrsp, tmrpsts/enzrecprot, regtmrpsts/regsigtrans, posregtmrpsts/regtmrpsts, posregtmrpsts/posregsigtrans, smadphos/protphos, regsmadphos/regprotphos, posregsmadphos/regsmadphos, posregsmadphos/posregprotphos, crs/cellproc, crs/respstim,
cellmet/metproc, cellmet/cellproc, regmet/regbp, negregmet/regmet, negregmet/negregbp, posregmet/regmet, posregmet/posregbp, osmp/metproc, macmet/osmp, primmet/osmp, geneexpr/macmet, regcellmet/regmet, regcellmet/regcp, posregcellmet/regcellmet, posregcellmet/posregmet, posregcellmet/posregcp, regmacmet/regmet, negregmacmet/regmacmet, negregmacmet/negregmet, posregmacmet/regmacmet, posregmacmet/posregmet, reggeneexpr/regmacmet, negreggeneexpr/reggeneexpr, negreggeneexpr/negregmacmet, posreggeneexpr/reggeneexpr, posreggeneexpr/posregmacmet, phosmet/cellmet, phoscomp/phosmet, regphosmet/regcellmet, posregphosmet/regphosmet, posregphosmet/posregcellmet, regphosphmet/regphosmet, posregphosphmet/regphosphmet, posregphosphmet/posregphosmet, phosphorylation/phoscomp, regphosph/regphosphmet, posregphosph/regphosph, posregphosph/posregphosphmet, protphos/phosphorylation, protphos/protmod, regprotphos/regphosph, regprotphos/regpmp, posregprotphos/regprotphos, posregprotphos/posregphosph, posregprotphos/posregpmp, ncmp/metproc, orgnmp/ncmp, protmet/orgnmp, protmet/macmet, macmod/macmet, protmod/macmod, protmod/protmet, regprimmet/regmet, regncmp/regmet, posregncmp/regncmp, posregncmp/posregmet, regprotmet/regprimmet, regprotmet/regmacmet, posregprotmet/regprotmet, posregprotmet/posregmacmet, regpmp/regprotmet, posregpmp/regpmp, posregpmp/posregprotmet,
macloc/loc, cellloc/loc, cellmacloc/macloc, cellmacloc/cellloc, regloc/regbp, estloc/loc, mainloc/loc, estlocincell/estloc, transport/estloc, vesictrans/transport, secretion/transport, export/estloc, secbycell/secretion, secbycell/export, exocytosis/secbycell, exocytosis/vesictrans, regexo2/exocytosis, protloc/macloc, mainprotloc/mainloc, regtransport/regloc, negregtransport/regtransport, regvesic/regtransport, regsecretion/regtransport, negregsecretion/regsecretion, negregsecretion/negregtransport, regsecbycell/regsecretion, negregsecbycell/regsecbycell, negregsecbycell/negregsecretion, regexo/regsecbycell, regexo/regvesic, negregexo/regexo, negregexo/negregsecbycell, regregsec/regexo, negregregsec/regregsec, negregregsec/negregexo,
regmf/bioreg, regcatact/regmf, regbinding/regmf, posregmf/regmf, posregmf/posregbp, regoxact/regcatact, regdnabind/regbinding, posregcatact/regcatact, posregcatact/posregmf, posregbinding/regbinding, posregbinding/posregmf, posregoxact/regoxact, posregoxact/posregcatact, regtranscr/regdnabind, posregdnabind/regdnabind, posregdnabind/posregbinding, posregtranscr/regtranscr, posregtranscr/posregdnabind,
regrespstim/regbp, posregrespstim/regrespstim, posregrespstim/posregbp, negregrespstim/regrespstim, negregrespstim/negregbp, respbiotic/respstim, respext/respstim, respstress/respstim, respchem/respstim, respextbiotic/respbiotic, respextbiotic/respext, taxis/loco, chemotaxis/taxis, regrespbiotic/regrespstim, posregrespbiotic/regrespbiotic, posregrespbiotic/posregrespstim, negregrespbiotic/regrespbiotic, negregrespbiotic/negregrespstim, regrespstress/regrespstim, regrespext/regrespstim, posregrespext/regrespext, posregrespext/posregrespstim, negregrespext/regrespext, negregrespext/negregrespstim, defresp/respstress, regdefresp/regrespstress, posregdefresp/regdefresp, posregdefresp/posregrespstim, negregdefresp/regdefresp, negregdefresp/negregrespstim, resporg/respbiotic, resporg/respextbiotic, resporg/bpinter, defrespother/defresp, defrespother/resporg, respvirus/resporg, respbact/resporg, cellrespvirus/respvirus, defrespbact/defrespother, defrespbact/respbact, inflam/defresp, reginflam/regdefresp, negreginflam/reginflam, negreginflam/negregdefresp, regdefbact/regdefresp, posregdefbact/regdefbact, posregdefbact/posregdefresp, respmolbact/resporgsub, resplipid/resporgsub, respoxy/respchem, resporgsub/respchem, resplps/respmolbact, resplps/resplipid, resplps/respoxy,
morp/reproproc, femalepreg/mmop, femalepreg/morp, mmop/mop}
 \draw[eg] (\a) -- (\b);
% blue
\foreach \a/\b in {ees/cellperiph, cytoplasm/ias, intorg/ias, ecs/ecr, cytosol/cytoplasm, celldev/celldiff, leukdiff/hemo, sigtrans/crs, sigtrans/cellcomm, sigtrans/signaling, cellactimm/immresp, smadphos/tmrpsts, nkdegran/nkcytotox, reproproc/repro, estlocincell/cellloc, mainprotloc/protloc, taxis/respext, chemotaxis/respchem, respmolbact/respbact}
 \draw[ebl] (\a) -- (\b);
% black
\foreach \a/\b in {regbp/bp, regcp/cellproc, regdev/devproc, regcelldiff/celldiff, regcelldev/celldev, regmcod/mcod, reghemo/hemo, regleukdiff/leukdiff, reglymphdiff/lymphdiff, regtcelldiff/tcelldiff, regregTdiff/regTdiff, regnkdiff/nkdiff, regcelladh/celladh, regccadh/ccadh2, regleukccadh/leukadh, regcellpopprolif/cellpopprolif, regleukprolif/leukprolif, regmncprolif/mncprolif, reglymphprolif/lymphprolif, regtcellprolif/tcellprolif, regabtcellprolif/abtcellprolif, regcd4prolif/cd4prolif, regcellact/cellact, regleukact/leukact, reglymphact/lymphact, regtcellact/tcellact, regabtcellact/abtcellact, regcd4act/cd4act, regnkact/nkact, regmacact/macact, regmop/mop, regleukmig/leukmig, regmncmig/mncmig, reglymphmig/lymphmig, regtcellmig/tcellmig, regcellmig/cellmig, regcellmot/cellmot, regloco/loco, regcytprod/cytprod, regtnfsfprod/tnfsfprod, regtnfprod/tnfprod, regtype2ifnprod/type2ifnprod, regil10prod/il10prod, regchemokprod/chemokprod, regil1prod/il1prod, regil6prod/il6prod, regcellkill/cellkill, regleukcytotox/leukcytotox, regnkcytotox/nkcytotox, regnkdegran/nkdegran, regisp/isp, regiep/iep, regleukmedimm/leukmedimm, reglymphmedimm/lymphmedimm, regnkmedimm/nkmedimm, regleukdegran/leukdegran, regimmresp/immresp, reginnate/innateimm, regsig/signaling, regcellcomm/cellcomm, regsigtrans/sigtrans, regtmrpsts/tmrpsts, regsmadphos/smadphos, regmet/metproc, regcellmet/cellmet, regmacmet/macmet, reggeneexpr/geneexpr, regphosmet/phosmet, regphosphmet/phoscomp, regphosph/phosphorylation, regprotphos/protphos, regprimmet/primmet, regncmp/ncmp, regprotmet/protmet, regpmp/protmod, regloc/loc, regtransport/transport, regvesic/vesictrans, regsecretion/secretion, regsecbycell/secbycell, regexo/exocytosis, regregsec/regexo2, regrespstim/respstim, regrespbiotic/respbiotic, regrespstress/respstress, regrespext/respext, regdefresp/defresp, reginflam/inflam, regdefbact/defrespbact}
 \draw[ek] (\a) -- (\b);
% green
\foreach \a/\b in {posregbp/bp, posregcp/cellproc, posregdev/devproc, posregcelldiff/celldiff, posregcelldev/celldev, posreghemo/hemo, posregleukdiff/leukdiff, posreglymphdiff/lymphdiff, posregtcelldiff/tcelldiff, posregregTdiff/regTdiff, posregcelladh/celladh, posregccadh/ccadh2, posregleukccadh/leukadh, posregcellact/cellact, posregleukact/leukact, posreglymphact/lymphact, posregtcellact/tcellact, posregmacact/macact, posregmop/mop, posregleukmig/leukmig, posregmncmig/mncmig, posreglymphmig/lymphmig, posregtcellmig/tcellmig, posregcellmig/cellmig, posregcellmot/cellmot, posregloco/loco, posregcytprod/cytprod, posregtnfsfprod/tnfsfprod, posregtnfprod/tnfprod, posregil10prod/il10prod, posregchemokprod/chemokprod, posregil1prod/il1prod, posregil6prod/il6prod, posregisp/isp, posregimmresp/immresp, posreginnate/innateimm, posregsig/signaling, posregcellcomm/cellcomm, posregsigtrans/sigtrans, posregtmrpsts/tmrpsts, posregsmadphos/smadphos, posregmet/metproc, posregcellmet/cellmet, posregmacmet/macmet, posreggeneexpr/geneexpr, posregphosmet/phosmet, posregphosphmet/phoscomp, posregphosph/phosphorylation, posregprotphos/protphos, posregncmp/ncmp, posregprotmet/protmet, posregpmp/protmod, posregrespstim/respstim, posregrespbiotic/respbiotic, posregrespext/respext, posregdefresp/defresp, posregdefbact/defrespbact}
 \draw[egr] (\a) -- (\b);
% red
\foreach \a/\b in {negregbp/bp, negregcp/cellproc, negregcelladh/celladh, negregccadh/ccadh2, negregleukccadh/leukadh, negregcellpopprolif/cellpopprolif, negregleukprolif/leukprolif, negregmncprolif/mncprolif, negreglymphprolif/lymphprolif, negregtcellprolif/tcellprolif, negregabtcellprolif/abtcellprolif, negregcd4prolif/cd4prolif, negregcellact/cellact, negregleukact/leukact, negreglymphact/lymphact, negregtcellact/tcellact, negregabtcellact/abtcellact, negregcd4act/cd4act, negregnkact/nkact, negregmop/mop, negregcytprod/cytprod, negregtype2ifnprod/type2ifnprod, negregcellkill/cellkill, negregleukcytotox/leukcytotox, negregnkcytotox/nkcytotox, negregnkdegran/nkdegran, negregisp/isp, negregiep/iep, negregleukmedimm/leukmedimm, negreglymphmedimm/lymphmedimm, negregnkmedimm/nkmedimm, negregleukdegran/leukdegran, negregimmresp/immresp, negreginnate/innateimm, negregmet/metproc, negregmacmet/macmet, negreggeneexpr/geneexpr, negregtransport/transport, negregsecretion/secretion, negregsecbycell/secbycell, negregexo/exocytosis, negregregsec/regexo2, negregrespstim/respstim, negregrespbiotic/respbiotic, negregrespext/respext, negregdefresp/defresp, negreginflam/inflam}
 \draw[erd] (\a) -- (\b);
\end{pgfonlayer}
\end{tikzpicture}
\end{document}
